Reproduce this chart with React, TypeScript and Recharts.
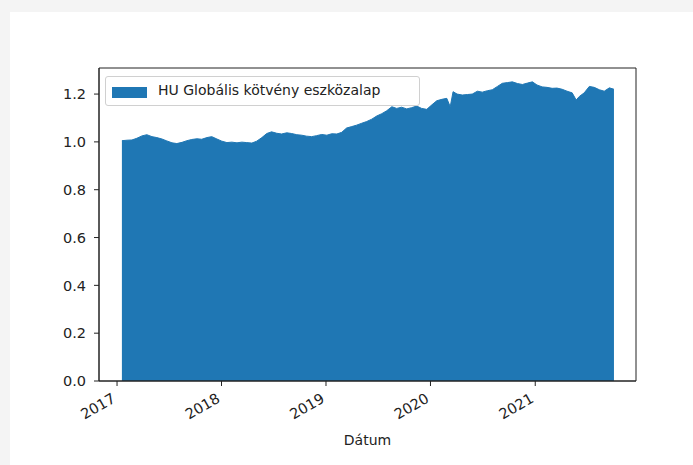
import { Area, AreaChart, Legend, ReferenceArea, XAxis, YAxis } from "recharts";

const dates = [
  "2017-01-18", "2017-02-05", "2017-02-22", "2017-03-11", "2017-03-29", "2017-04-15", "2017-05-03",
  "2017-05-20", "2017-06-07", "2017-06-24", "2017-07-12", "2017-07-29", "2017-08-16", "2017-09-02",
  "2017-09-19", "2017-10-07", "2017-10-24", "2017-11-11", "2017-11-28", "2017-12-16",
  "2018-01-02", "2018-01-20", "2018-02-06", "2018-02-24", "2018-03-13", "2018-03-30", "2018-04-17",
  "2018-05-04", "2018-05-22", "2018-06-08", "2018-06-25", "2018-07-13", "2018-07-30", "2018-08-17",
  "2018-09-03", "2018-09-21", "2018-10-08", "2018-10-25", "2018-11-12", "2018-11-29", "2018-12-17",
  "2019-01-04", "2019-01-21", "2019-02-08", "2019-02-25", "2019-03-14", "2019-04-01", "2019-04-18",
  "2019-05-06", "2019-05-23", "2019-06-10", "2019-06-27", "2019-07-15", "2019-08-01", "2019-08-19",
  "2019-09-05", "2019-09-22", "2019-10-10", "2019-10-27", "2019-11-14", "2019-12-01", "2019-12-19",
  "2020-01-06", "2020-01-23", "2020-02-10", "2020-02-27", "2020-03-10", "2020-03-20", "2020-04-03",
  "2020-04-21", "2020-05-09", "2020-05-26", "2020-06-13", "2020-06-30", "2020-07-18", "2020-08-04",
  "2020-08-22", "2020-09-08", "2020-09-26", "2020-10-13", "2020-10-31", "2020-11-17", "2020-12-05",
  "2020-12-22",
  "2021-01-07", "2021-01-25", "2021-02-11", "2021-03-01", "2021-03-18", "2021-04-05", "2021-04-22",
  "2021-05-10", "2021-05-24", "2021-06-04", "2021-06-21", "2021-07-09", "2021-07-26", "2021-08-13",
  "2021-08-30", "2021-09-17", "2021-10-03",
];

const values = [
  1.005, 1.007, 1.008, 1.015, 1.025, 1.03, 1.022,
  1.018, 1.012, 1.004, 0.996, 0.993, 0.998, 1.005,
  1.01, 1.013, 1.011, 1.018, 1.022, 1.012,
  1.003, 0.997, 0.999, 0.996, 0.999, 0.997, 0.995,
  1.003, 1.018, 1.035, 1.042, 1.036, 1.033, 1.038,
  1.035, 1.03, 1.028, 1.024, 1.022, 1.026, 1.031,
  1.028, 1.034, 1.033, 1.04, 1.058, 1.064, 1.07,
  1.078, 1.085, 1.095, 1.108, 1.118, 1.13, 1.147,
  1.14, 1.145, 1.138, 1.143, 1.15, 1.14, 1.136,
  1.155, 1.172, 1.178, 1.182, 1.147, 1.21, 1.2,
  1.196, 1.198, 1.2, 1.212, 1.208, 1.214, 1.218,
  1.232, 1.245, 1.248, 1.251, 1.244, 1.24, 1.246,
  1.251,
  1.238, 1.23, 1.228, 1.224, 1.225, 1.22, 1.212,
  1.205, 1.175, 1.19, 1.205, 1.232, 1.228, 1.218,
  1.212, 1.226, 1.22,
];

const yearTicks = [2017, 2018, 2019, 2020, 2021];
const yTicks = [0, 0.2, 0.4, 0.6, 0.8, 1.0, 1.2];
const seriesName = "HU Globális kötvény eszközalap";

const data = dates.map((d, i) => ({ t: Date.parse(d), v: values[i] }));

const FONT = "DejaVu Sans, sans-serif";
const X_MIN = Date.UTC(2016, 9, 30);
const X_MAX = Date.UTC(2021, 11, 19);
const Y_MAX = 1.309;

const XTick = (props: any) => {
  const { x, y, payload } = props;
  return (
    <g transform={`translate(${x - 6},${y + 4})`}>
      <text textAnchor="end" dy="0.75em" transform="rotate(-30)" fontSize={14.5} fill="#222" fontFamily={FONT}>
        {new Date(payload.value).getUTCFullYear()}
      </text>
    </g>
  );
};

const LegendBox = () => (
  <div
    style={{
      width: 313,
      height: 28,
      border: "1px solid #d0d0d0",
      borderRadius: 3,
      background: "rgba(255,255,255,0.8)",
      position: "absolute",
      left: 0,
      top: 0,
      fontFamily: FONT,
      fontSize: 14,
      color: "#222",
    }}
  >
    <div style={{ position: "absolute", left: 6, top: 10, width: 35, height: 11, background: "#1f77b4" }} />
    <div style={{ position: "absolute", left: 52, top: 5, whiteSpace: "nowrap" }}>{seriesName}</div>
  </div>
);

export default function App() {
  return (
    <div style={{ position: "fixed", left: 0, top: 0, width: 693, height: 465, background: "#f4f4f4" }}>
      <div style={{ position: "absolute", left: 10, top: 12, width: 683, height: 453, background: "#fff" }} />
      <div style={{ position: "absolute", left: 0, top: 0 }}>
        <AreaChart width={693} height={465} data={data} margin={{ top: 68, right: 57, bottom: 4, left: 39 }}>
          <XAxis
            dataKey="t"
            type="number"
            scale="time"
            domain={[X_MIN, X_MAX]}
            ticks={yearTicks.map((y) => Date.UTC(y, 0, 1))}
            interval={0}
            tick={<XTick />}
            tickSize={5}
            height={80}
            stroke="#222"
            allowDataOverflow
            label={{ value: "Dátum", position: "insideBottom", offset: 16, fontSize: 14, fill: "#222", fontFamily: FONT }}
          />
          <YAxis
            type="number"
            domain={[0, Y_MAX]}
            ticks={yTicks}
            interval={0}
            tickFormatter={(v: number) => v.toFixed(1)}
            tickSize={5}
            tickMargin={8}
            width={60}
            stroke="#222"
            tick={{ fontSize: 14.5, fill: "#222", fontFamily: FONT }}
            allowDataOverflow
          />
          <Legend
            content={<LegendBox />}
            wrapperStyle={{ position: "absolute", left: 105, top: 76, width: 315, height: 0, overflow: "visible" }}
          />
          <Area
            type="linear"
            dataKey="v"
            name={seriesName}
            fill="#1f77b4"
            fillOpacity={1}
            stroke="#1f77b4"
            strokeWidth={1}
            isAnimationActive={false}
          />
          <ReferenceArea x1={X_MIN} x2={X_MAX} y1={0} y2={Y_MAX} fill="none" stroke="#222" strokeWidth={1} />
        </AreaChart>
      </div>
    </div>
  );
}
